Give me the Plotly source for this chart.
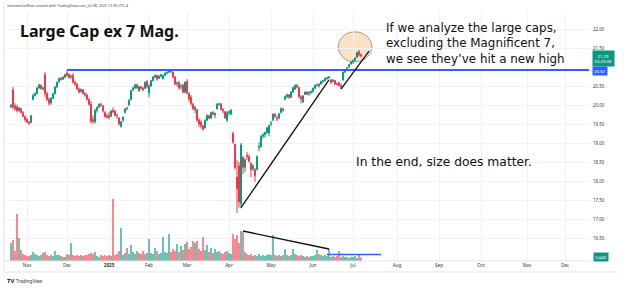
import pandas as pd
import plotly.graph_objects as go

# ---------------- data ----------------
holidays = ["2024-11-28", "2024-12-25", "2025-01-01", "2025-01-09", "2025-01-20",
            "2025-02-17", "2025-04-18", "2025-05-26", "2025-06-19", "2025-07-04",
            "2025-09-01", "2025-11-27", "2025-12-25"]

opens = [19.95, 20.40, 19.98, 19.95, 19.86, 19.90, 19.80, 19.70,
         19.62, 19.55, 19.54, 20.15, 20.25, 20.30, 20.45, 20.52, 20.43, 20.80, 20.30, 20.15, 20.05, 20.18, 20.30, 20.47, 20.62, 20.70, 20.68, 20.73,
         20.84, 20.80, 20.74, 20.78, 20.60, 20.55, 20.42, 20.36, 20.40, 20.30, 20.26, 20.15, 20.02, 19.62, 19.55, 19.86, 19.94, 20.02, 19.98, 19.80, 19.72,
         19.72, 19.70, 19.86, 19.84, 19.73, 19.66, 19.44, 19.60, 19.80, 19.92, 20.00, 20.14, 20.40, 20.45, 20.53, 20.38, 20.48, 20.44, 20.44, 20.62,
         20.32, 20.50, 20.64, 20.74, 20.78, 20.70, 20.76, 20.70, 20.78, 20.84, 20.86, 20.90, 20.86, 20.74, 20.56, 20.58, 20.48, 20.52, 20.34,
         20.62, 20.30, 20.20, 20.02, 19.88, 19.88, 19.60, 19.55, 19.45, 19.40, 19.60, 19.72, 19.65, 19.80, 19.74, 19.90, 20.02, 20.03, 19.88, 19.82, 19.60,
         19.80, 19.76, 19.25, 18.96, 18.10, 18.40, 17.40, 18.62, 18.36, 18.68, 18.64, 18.46, 18.32, 18.30, 18.30, 18.88, 18.90, 19.18, 19.22, 19.28, 19.26,
         19.50, 19.60, 19.76, 19.66, 19.66, 19.80, 19.90, 20.15, 20.22, 20.27, 20.20, 20.34, 20.42, 20.52, 20.46, 20.22, 20.08, 20.28, 20.34, 20.30, 20.33,
         20.36, 20.44, 20.52, 20.54, 20.55, 20.62, 20.64, 20.70, 20.72, 20.66, 20.62, 20.64, 20.56, 20.58, 20.52, 20.66, 20.86, 20.92, 21.00, 21.08,
         21.13, 21.17, 21.26, 21.40, 21.32]
highs = [20.02, 20.47, 20.05, 20.00, 19.95, 19.93, 19.84, 19.72,
         19.66, 19.58, 19.74, 20.30, 20.34, 20.48, 20.56, 20.54, 20.48, 20.87, 20.35, 20.20, 20.20, 20.32, 20.50, 20.62, 20.72, 20.74, 20.76, 20.82,
         20.92, 20.84, 20.80, 20.84, 20.64, 20.58, 20.46, 20.44, 20.42, 20.34, 20.30, 20.18, 20.10, 19.72, 19.90, 19.96, 20.04, 20.06, 20.00, 19.84, 19.78,
         19.82, 19.86, 19.94, 19.88, 19.78, 19.68, 19.58, 19.70, 19.92, 19.96, 20.16, 20.40, 20.48, 20.56, 20.56, 20.50, 20.50, 20.48, 20.62, 20.66,
         20.55, 20.66, 20.76, 20.80, 20.80, 20.78, 20.82, 20.80, 20.86, 20.88, 20.92, 20.94, 20.88, 20.76, 20.62, 20.64, 20.56, 20.56, 20.62,
         20.68, 20.34, 20.26, 20.06, 19.98, 19.90, 19.66, 19.60, 19.48, 19.62, 19.76, 19.74, 19.82, 19.84, 19.80, 20.05, 20.06, 20.04, 19.92, 19.84, 19.84,
         19.86, 19.90, 19.30, 18.98, 18.55, 18.50, 19.00, 18.66, 18.60, 18.76, 18.70, 18.50, 18.44, 18.34, 18.68, 19.02, 19.20, 19.26, 19.30, 19.42, 19.48,
         19.58, 19.78, 19.78, 19.72, 19.80, 19.94, 19.92, 20.25, 20.30, 20.28, 20.36, 20.48, 20.54, 20.55, 20.48, 20.26, 20.26, 20.36, 20.36, 20.36, 20.38,
         20.46, 20.54, 20.56, 20.58, 20.64, 20.66, 20.72, 20.74, 20.76, 20.68, 20.68, 20.66, 20.60, 20.62, 20.56, 20.88, 20.92, 21.00, 21.08, 21.15,
         21.20, 21.26, 21.40, 21.45, 21.36]
lows = [19.92, 19.88, 19.85, 19.80, 19.82, 19.78, 19.68, 19.55,
        19.52, 19.47, 19.52, 20.12, 20.22, 20.28, 20.42, 20.40, 20.38, 20.22, 20.10, 19.98, 20.00, 20.15, 20.28, 20.45, 20.58, 20.64, 20.66, 20.70,
        20.74, 20.70, 20.68, 20.56, 20.50, 20.40, 20.30, 20.32, 20.28, 20.22, 20.12, 19.98, 19.52, 19.50, 19.52, 19.80, 19.92, 19.96, 19.80, 19.66, 19.64,
        19.62, 19.68, 19.78, 19.70, 19.64, 19.46, 19.40, 19.56, 19.78, 19.86, 19.98, 20.12, 20.36, 20.42, 20.42, 20.34, 20.40, 20.36, 20.42, 20.44,
        20.20, 20.48, 20.62, 20.70, 20.64, 20.68, 20.72, 20.66, 20.76, 20.80, 20.84, 20.84, 20.70, 20.52, 20.48, 20.40, 20.40, 20.30, 20.30,
        20.28, 20.08, 19.98, 19.86, 19.78, 19.55, 19.42, 19.38, 19.32, 19.38, 19.58, 19.62, 19.64, 19.72, 19.66, 19.88, 19.98, 19.86, 19.78, 19.64, 19.55,
        19.72, 19.74, 18.98, 18.30, 17.16, 17.30, 17.28, 18.18, 18.24, 18.56, 18.48, 18.10, 18.26, 17.98, 18.28, 18.78, 18.88, 19.12, 19.14, 19.24, 19.18,
        19.44, 19.58, 19.66, 19.58, 19.62, 19.78, 19.82, 20.12, 20.18, 20.16, 20.18, 20.32, 20.40, 20.44, 20.18, 20.04, 20.06, 20.26, 20.26, 20.24, 20.28,
        20.32, 20.42, 20.48, 20.46, 20.54, 20.58, 20.62, 20.66, 20.68, 20.56, 20.60, 20.52, 20.52, 20.48, 20.42, 20.64, 20.84, 20.90, 20.98, 21.06,
        21.08, 21.14, 21.24, 21.28, 21.26]
closes = [20.00, 19.95, 19.90, 19.85, 19.92, 19.80, 19.70, 19.62,
          19.55, 19.52, 19.72, 20.25, 20.30, 20.45, 20.53, 20.43, 20.45, 20.30, 20.15, 20.05, 20.18, 20.30, 20.47, 20.60, 20.70, 20.67, 20.73, 20.80,
          20.78, 20.72, 20.76, 20.60, 20.55, 20.42, 20.34, 20.40, 20.30, 20.26, 20.15, 20.02, 19.56, 19.58, 19.86, 19.94, 20.02, 20.00, 19.84, 19.70, 19.68,
          19.68, 19.84, 19.82, 19.73, 19.72, 19.50, 19.56, 19.68, 19.90, 19.90, 20.12, 20.38, 20.45, 20.53, 20.45, 20.48, 20.44, 20.40, 20.60, 20.48,
          20.50, 20.64, 20.74, 20.78, 20.68, 20.76, 20.80, 20.78, 20.84, 20.86, 20.90, 20.88, 20.74, 20.55, 20.58, 20.45, 20.50, 20.34, 20.60,
          20.32, 20.16, 20.04, 19.90, 19.93, 19.60, 19.50, 19.45, 19.36, 19.60, 19.72, 19.65, 19.80, 19.76, 19.78, 20.02, 20.03, 19.88, 19.84, 19.66, 19.80,
          19.82, 19.86, 19.02, 18.35, 17.80, 17.45, 18.95, 18.36, 18.56, 18.64, 18.52, 18.30, 18.40, 18.14, 18.64, 18.90, 19.18, 19.22, 19.28, 19.40, 19.46,
          19.52, 19.76, 19.70, 19.64, 19.76, 19.90, 19.86, 20.22, 20.27, 20.20, 20.34, 20.46, 20.52, 20.47, 20.22, 20.16, 20.24, 20.34, 20.28, 20.33, 20.36,
          20.44, 20.52, 20.54, 20.50, 20.62, 20.64, 20.70, 20.72, 20.74, 20.58, 20.66, 20.55, 20.54, 20.52, 20.47, 20.86, 20.90, 20.98, 21.06, 21.13,
          21.17, 21.24, 21.38, 21.32, 21.29]
volumes = [18, 21, 10, 47, 23, 11, 7, 6,
           5, 5, 6, 9, 7, 6, 5, 6, 8, 9, 6, 5, 6, 5, 10, 6, 6, 5, 4, 4,
           7, 6, 18, 6, 5, 6, 5, 6, 5, 6, 6, 7, 8, 7, 9, 5, 4, 6, 5, 6, 5,
           6, 5, 62, 6, 7, 10, 33, 6, 8, 13, 7, 16, 9, 7, 10, 8, 7, 10, 7, 8,
           22, 8, 7, 13, 10, 7, 8, 24, 9, 8, 27, 9, 12, 10, 17, 9, 15, 11, 17,
           19, 12, 14, 20, 18, 20, 12, 10, 24, 11, 16, 9, 13, 8, 12, 9, 10, 8, 7, 9, 10,
           8, 7, 27, 22, 26, 18, 30, 29, 9, 7, 6, 7, 5, 6, 5, 7, 5, 6, 5, 6, 7,
           6, 26, 6, 5, 6, 5, 6, 12, 6, 5, 6, 12, 7, 6, 5, 6, 5, 4, 5, 4, 5,
           5, 6, 11, 7, 6, 5, 6, 5, 12, 4, 5, 4, 5, 10, 4, 5, 4, 4, 3, 4,
           4, 5, 3, 7, 3.44]

month_ticks = ["2024-11-01", "2024-12-02", "2025-01-02", "2025-02-03", "2025-03-03", "2025-04-01",
               "2025-05-01", "2025-06-02", "2025-07-01", "2025-08-01", "2025-09-02", "2025-10-01",
               "2025-11-03", "2025-12-01"]
month_labels = ["Nov", "Dec", "<b>2025</b>", "Feb", "Mar", "Apr", "May", "Jun", "Jul",
                "Aug", "Sep", "Oct", "Nov", "Dec"]
price_ticks = [16.5, 17.0, 17.5, 18.0, 18.5, 19.0, 19.5, 20.0, 20.5, 21.5, 22.0]

# ---------------- build ----------------
W, H = 624, 288
ML, MR, MT, MB = 4, 34, 12, 27
PW, PH = W - ML - MR, H - MT - MB

def px_x(x):
    return (x - ML) / PW

def px_y(y):
    return (H - MB - y) / PH

def noon(d):
    return pd.Timestamp(d) + pd.Timedelta(hours=12)

days = [d for d in pd.bdate_range("2024-10-22", "2025-07-08") if d.strftime("%Y-%m-%d") not in holidays]
xs = [noon(d) for d in days]

GREEN = "#089981"
RED = "#f23645"
vol_colors = ["rgba(8,153,129,0.85)" if c >= o else "rgba(242,54,69,0.85)" for o, c in zip(opens, closes)]

fig = go.Figure()
fig.add_trace(go.Bar(x=xs, y=volumes, marker=dict(color=vol_colors, line=dict(width=0)),
                     yaxis="y2", hoverinfo="skip"))
fig.add_trace(go.Candlestick(x=xs, open=opens, high=highs, low=lows, close=closes,
                             increasing=dict(line=dict(color=GREEN, width=1), fillcolor=GREEN),
                             decreasing=dict(line=dict(color=RED, width=1), fillcolor=RED),
                             whiskerwidth=0, hoverinfo="skip"))

ymax = 22 + (29 - MT) / 38
ymin = 22 - (H - MB - 29) / 38

shapes = []
shapes.append(dict(type="line", xref="x", yref="y", x0=noon("2024-12-02"), x1=noon("2025-12-17"),
                   y0=20.92, y1=20.92, line=dict(color="#2962ff", width=2)))
shapes.append(dict(type="circle", xref="x", yref="y", xsizemode="pixel", ysizemode="pixel",
                   xanchor=noon("2025-07-02"), yanchor=21.53, x0=-17, x1=17, y0=-15, y1=15,
                   fillcolor="rgba(248,196,140,0.5)", line=dict(color="rgba(140,140,140,0.8)", width=1),
                   layer="below"))
shapes.append(dict(type="line", xref="x", yref="y", x0=noon("2025-04-09"), y0=17.30,
                   x1=noon("2025-06-12"), y1=20.66, line=dict(color="#111111", width=1.3)))
shapes.append(dict(type="line", xref="x", yref="y", x0=noon("2025-06-23"), y0=20.42,
                   x1=noon("2025-07-14"), y1=21.42, line=dict(color="#111111", width=1.3)))
shapes.append(dict(type="line", xref="x", yref="y2", x0=noon("2025-04-10"), y0=30,
                   x1=noon("2025-06-12"), y1=12, line=dict(color="#111111", width=1.3)))
shapes.append(dict(type="line", xref="x", yref="y2", x0=noon("2025-06-11"), y0=6.5,
                   x1=noon("2025-07-22"), y1=6.5, line=dict(color="#2962ff", width=1.5)))
shapes.append(dict(type="line", xref="paper", yref="paper", x0=0, x1=px_x(619), y0=px_y(272), y1=px_y(272),
                   line=dict(color="#e0e3eb", width=1)))
shapes.append(dict(type="line", xref="paper", yref="paper", x0=0, x1=px_x(590), y0=0, y1=0,
                   line=dict(color="#e0e3eb", width=1)))
shapes.append(dict(type="line", xref="paper", yref="paper", x0=0, x1=0, y0=px_y(272), y1=px_y(2),
                   line=dict(color="#e0e3eb", width=1)))

ann = []
def text(x, y, s, size, color="#111", family="Noto Sans", weight="normal", xanchor="left", **kw):
    ann.append(dict(xref="paper", yref="paper", x=px_x(x), y=px_y(y), text=s, showarrow=False,
                    xanchor=xanchor, yanchor="middle", font=dict(size=size, color=color, family=family,
                                                                 weight=weight), **kw))

text(5, 6, "intermarketflow created with TradingView.com, Jul 08, 2025 12:39 UTC-4", 3.6, color="#444")
text(18, 31, "Large Cap ex 7 Mag.", 16, weight="bold")
text(384, 43.5, "If we analyze the large caps,<br>excluding the Magnificent 7,<br>we see they’ve hit a new high",
     11.9, family="DejaVu Sans", align="left")
text(354, 162, "In the end, size does matter.", 12.3, family="DejaVu Sans")
text(5, 281, "<b>TV</b>", 6, color="#131722")
text(14, 281, "TradingView", 4.6, color="#333")
text(592, 58.5, "21.29<br>03:20:09", 4.3, color="white", bgcolor=GREEN, borderpad=1.5)
text(592, 70.5, "20.92", 4.3, color="white", bgcolor="#2962ff", borderpad=1)
text(593, 257, "3.44K", 4.3, color="white", bgcolor=GREEN, borderpad=1)

fig.update_layout(
    width=W, height=H, autosize=False,
    margin=dict(l=ML, r=MR, t=MT, b=MB, pad=0),
    paper_bgcolor="white", plot_bgcolor="white",
    showlegend=False, hovermode=False, bargap=0.3,
    font=dict(family="Noto Sans", color="#333"),
    xaxis=dict(type="date", range=[pd.Timestamp("2024-10-17"), pd.Timestamp("2025-12-18")],
               rangebreaks=[dict(bounds=["sat", "mon"]), dict(values=holidays)],
               tickvals=[noon(d) for d in month_ticks], ticktext=month_labels,
               tickfont=dict(size=4.6, color="#333"), ticks="", showgrid=True,
               gridcolor="#f0f2f6", gridwidth=1, zeroline=False, showline=False,
               rangeslider=dict(visible=False), fixedrange=True),
    yaxis=dict(side="right", range=[ymin, ymax], tickvals=price_ticks,
               ticktext=[f"{v:.2f}" for v in price_ticks], tickfont=dict(size=4.4, color="#333"),
               ticks="", showgrid=True, gridcolor="#f0f2f6", gridwidth=1, zeroline=False,
               showline=False, fixedrange=True, ticklabelstandoff=2),
    yaxis2=dict(overlaying="y", range=[0, PH], visible=False, fixedrange=True),
    shapes=shapes, annotations=ann,
)

fig.write_html("out.html")
